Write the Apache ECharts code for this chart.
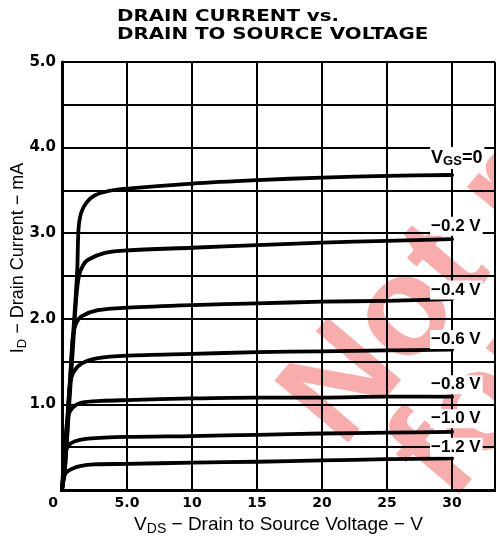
<!DOCTYPE html>
<html>
<head>
<meta charset="utf-8">
<script src="https://cdn.jsdelivr.net/npm/echarts@6/dist/echarts.min.js"></script>
<style>html,body{margin:0;padding:0;background:#fff;}#c{width:496px;height:543px;}</style>
</head>
<body>
<div id="c"></div>
<script>
const titleLines = ['DRAIN CURRENT vs.', 'DRAIN TO SOURCE VOLTAGE'];
const xTicks = ['0', '5.0', '10', '15', '20', '25', '30'];
const yTicks = ['0', '1.0', '2.0', '3.0', '4.0', '5.0'];
const seriesNames = ['VGS=0', '−0.2 V', '−0.4 V', '−0.6 V', '−0.8 V', '−1.0 V', '−1.2 V'];
const vgs0 = [[0,0],[0.23,0.25],[0.5,0.95],[0.8,1.7],[1.05,2.25],[1.18,2.6],[1.23,2.9],[1.3,3.1],[1.5,3.25],[1.9,3.36],[2.5,3.44],[3.5,3.49],[5,3.52],[10,3.58],[15,3.62],[20,3.65],[25,3.67],[30,3.68]];
const vgsM02 = [[0,0],[0.25,0.3],[0.6,1.1],[0.9,1.8],[1.1,2.25],[1.3,2.5],[1.6,2.62],[2.0,2.69],[3.3,2.77],[5,2.8],[10,2.83],[15,2.86],[20,2.89],[25,2.91],[30,2.93]];
const vgsM04 = [[0,0],[0.2,0.3],[0.45,0.9],[0.7,1.5],[0.84,1.8],[1.1,1.95],[1.53,2.03],[2.76,2.1],[5,2.13],[10,2.16],[15,2.18],[20,2.2],[25,2.21],[30,2.23]];
const vgsM06 = [[0,0],[0.2,0.35],[0.4,0.8],[0.6,1.22],[0.9,1.38],[1.53,1.48],[2.76,1.54],[5,1.57],[10,1.59],[15,1.61],[20,1.62],[25,1.63],[30,1.64]];
const vgsM08 = [[0,0],[0.15,0.3],[0.3,0.65],[0.45,0.85],[0.8,0.96],[1.53,1.02],[3,1.04],[5,1.05],[10,1.07],[15,1.08],[20,1.08],[25,1.09],[30,1.09]];
const vgsM10 = [[0,0],[0.1,0.25],[0.23,0.43],[0.5,0.52],[1.0,0.57],[2,0.6],[5,0.62],[10,0.63],[15,0.645],[20,0.66],[25,0.67],[30,0.68]];
const vgsM12 = [[0,0],[0.08,0.1],[0.3,0.2],[0.8,0.25],[1.38,0.28],[2.5,0.3],[5,0.305],[10,0.32],[15,0.33],[20,0.345],[25,0.36],[30,0.37]];
const curves = [vgs0, vgsM02, vgsM04, vgsM06, vgsM08, vgsM10, vgsM12];
const labelDy = [-17, -13, -9, -10, -12, -13, -11];
const watermark = ['Not re', 'for ne'];

const chart = echarts.init(document.getElementById('c'));
const lbl = {fontFamily:'Liberation Sans', fontWeight:'bold', fontSize:17, color:'#000'};
const series = curves.map((d, i) => ({
  type: 'line',
  name: seriesNames[i],
  data: d,
  smooth: 0.3,
  showSymbol: false,
  symbol: 'none',
  z: 5,
  lineStyle: {color: '#000', width: 3.8, join: 'round', cap: 'round'},
  endLabel: {
    show: true,
    distance: 0,
    offset: [-22, labelDy[i]],
    align: 'left',
    backgroundColor: '#fff',
    padding: [1, 2, 1, 1],
    formatter: i === 0 ? '{v|V}{s|GS}{v|=0}' : seriesNames[i],
    ...lbl,
    rich: {
      v: {...lbl, fontSize: 18},
      s: {...lbl, fontSize: 13, verticalAlign: 'bottom', padding: [7, 0, 0, 0]}
    }
  }
}));

const wmStyle = {font: 'bold 140px "Liberation Sans"', fill: 'rgba(240,70,70,0.45)', textVerticalAlign: 'bottom'};

chart.setOption({
  animation: false,
  backgroundColor: '#fff',
  grid: {left: 62, top: 62, right: 1, bottom: 53, show: false, containLabel: false, outerBoundsMode: 'none'},
  graphic: [
    {type:'text', left: 117, top: 9, z: 10, scaleX: 1.24, style: {text: titleLines[0], font: 'bold 16px "DejaVu Sans"', fill: '#000'}},
    {type:'text', left: 117, top: 27, z: 10, scaleX: 1.24, style: {text: titleLines[1], font: 'bold 16px "DejaVu Sans"', fill: '#000'}},
    {type:'text', x: 366, y: 470, rotation: 0.87, z: -10, silent: true, style: {text: watermark[0], ...wmStyle}},
    {type:'text', x: 475, y: 524, rotation: 0.87, z: -10, silent: true, style: {text: watermark[1], ...wmStyle}}
  ],
  xAxis: {
    type: 'value', min: 0, max: 33.3, interval: 5,
    name: '{v|V}{s|DS}{t| − Drain to Source Voltage − V}',
    nameLocation: 'middle', nameGap: 24,
    nameTextStyle: {
      rich: {
        v: {fontFamily:'Liberation Sans', fontSize: 19, color:'#000'},
        s: {fontFamily:'Liberation Sans', fontSize: 14, color:'#000', verticalAlign:'bottom', padding:[8,0,0,0]},
        t: {fontFamily:'Liberation Sans', fontSize: 19, color:'#000'}
      }
    },
    axisLine: {show: true, onZero: false, lineStyle: {color:'#000', width: 3}},
    axisTick: {show: false},
    splitLine: {show: true, lineStyle: {color:'#000', width: 2}},
    axisLabel: {
      margin: 6,
      fontFamily: 'DejaVu Sans', fontWeight: 'bold', fontSize: 14, color: '#000',
      formatter: function (v) {
        if (Math.abs(v % 5) > 1e-6) return '';
        const s = xTicks[Math.round(v / 5)];
        return v === 0 ? '{z|' + s + '}' : s;
      },
      rich: {z: {fontFamily:'DejaVu Sans', fontWeight:'bold', fontSize:14, color:'#000', padding:[0,18,0,0]}}
    }
  },
  yAxis: {
    type: 'value', min: 0, max: 5, interval: 0.5,
    name: '{v|I}{s|D}{t| − Drain Current − mA}',
    nameLocation: 'middle', nameGap: 33, nameMoveOverlap: false,
    nameTextStyle: {
      padding: [0, 0, 0, 36],
      rich: {
        v: {fontFamily:'Liberation Sans', fontSize: 18, color:'#000'},
        s: {fontFamily:'Liberation Sans', fontSize: 13, color:'#000', verticalAlign:'bottom', padding:[8,0,0,0]},
        t: {fontFamily:'Liberation Sans', fontSize: 18, color:'#000'}
      }
    },
    axisLine: {show: true, lineStyle: {color:'#000', width: 3}},
    axisTick: {show: false},
    splitLine: {show: true, lineStyle: {color:'#000', width: 2}},
    axisLabel: {
      margin: 6,
      fontFamily: 'DejaVu Sans', fontWeight: 'bold', fontSize: 15, color: '#000',
      formatter: function (v) {
        if (v === 0) return '';
        if (Math.abs(v % 1) > 1e-6) return '';
        return yTicks[Math.round(v)];
      }
    }
  },
  series: series
});
</script>
</body>
</html>
